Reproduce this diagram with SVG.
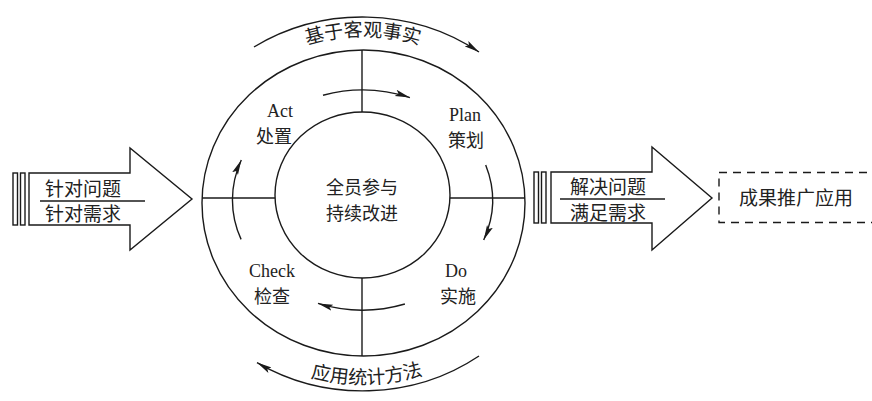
<svg xmlns="http://www.w3.org/2000/svg" width="872" height="401" viewBox="0 0 872 401">
<defs>
<style>
.ln{fill:none;stroke:#1a1a1a;stroke-width:1.4}
.shape{fill:#fff;stroke:#1a1a1a;stroke-width:1.4}
.cjk{font-family:"Noto Sans CJK SC","Noto Sans CJK JP",sans-serif;font-size:18px;fill:#222;text-anchor:middle}
.arc{font-family:"Noto Sans CJK SC","Noto Sans CJK JP",sans-serif;font-size:19px;fill:#222;text-anchor:middle}
.lat{font-family:"Liberation Serif","DejaVu Serif",serif;font-size:18px;fill:#222;text-anchor:middle}
</style>
<marker id="ah" markerUnits="userSpaceOnUse" markerWidth="16" markerHeight="8" refX="15" refY="4" orient="auto">
<path d="M0,0.8 L15,4 L0,7.2 L3,4 Z" fill="#1a1a1a"/>
</marker>
<path id="topText" d="M207,121 A179,166 0 0 1 519,121"/>
<path id="botText" d="M196.7,294 A192,180 0 0 0 529.3,294"/>
</defs>
<rect width="872" height="401" fill="#fff"/>

<g id="connectors">
<path class="ln" d="M254,47 A200,187 0 0 1 479,52" marker-end="url(#ah)"/>
<path class="ln" d="M479,356 A200,187 0 0 1 257,362.6" marker-end="url(#ah)"/>
<path class="ln" d="M323,95.3 A130,110 0 0 1 409.9,97.6" marker-end="url(#ah)"/>
<path class="ln" d="M485.7,165.1 A130,110 0 0 1 483.7,240" marker-end="url(#ah)"/>
<path class="ln" d="M404.9,304 A130,110 0 0 1 318,303.4" marker-end="url(#ah)"/>
<path class="ln" d="M241.1,239.4 A130,110 0 0 1 241.3,160" marker-end="url(#ah)"/>
</g>

<g id="cycle">
<ellipse class="ln" cx="363.5" cy="203" rx="161.5" ry="153"/>
<line class="ln" x1="362" y1="50" x2="362" y2="112"/>
<line class="ln" x1="362" y1="278" x2="362" y2="356"/>
<line class="ln" x1="202" y1="198" x2="275" y2="198"/>
<line class="ln" x1="450" y1="198" x2="525" y2="198"/>
</g>

<g id="label-top">
<text class="arc"><textPath href="#topText" startOffset="50%">基于客观事实</textPath></text>
</g>
<g id="label-bottom">
<text class="arc"><textPath href="#botText" startOffset="51%">应用统计方法</textPath></text>
</g>

<g id="center">
<ellipse class="ln" cx="362.5" cy="195" rx="87.5" ry="83"/>
<text class="cjk" x="362" y="194">全员参与</text>
<text class="cjk" x="362" y="220">持续改进</text>
</g>

<g id="act">
<text class="lat" x="280" y="117">Act</text>
<text class="cjk" x="274" y="143">处置</text>
</g>
<g id="plan">
<text class="lat" x="465" y="121">Plan</text>
<text class="cjk" x="466" y="147">策划</text>
</g>
<g id="check">
<text class="lat" x="272" y="277">Check</text>
<text class="cjk" x="272" y="303">检查</text>
</g>
<g id="do">
<text class="lat" x="456" y="277">Do</text>
<text class="cjk" x="458" y="303">实施</text>
</g>

<g id="input">
<rect class="shape" x="13" y="173" width="4.5" height="52"/>
<rect class="shape" x="20.5" y="173" width="4.5" height="52"/>
<path class="shape" d="M29,173 H130 V148 L192,199 L130,250 V225 H29 Z"/>
<line class="ln" x1="40" y1="201" x2="145" y2="201"/>
<text class="arc" x="83" y="196">针对问题</text>
<text class="arc" x="83" y="221">针对需求</text>
</g>

<g id="output">
<rect class="shape" x="534" y="172" width="4.5" height="51"/>
<rect class="shape" x="541.5" y="172" width="4.5" height="51"/>
<path class="shape" d="M551,172 H652 V147 L712,198 L652,250 V223 H551 Z"/>
<line class="ln" x1="560" y1="199" x2="665" y2="199"/>
<text class="arc" x="608" y="194">解决问题</text>
<text class="arc" x="608" y="219.5">满足需求</text>
</g>

<g id="result">
<rect class="ln" x="719" y="172.5" width="160" height="50" stroke-dasharray="8,6"/>
<text class="arc" x="796" y="205">成果推广应用</text>
</g>
</svg>
